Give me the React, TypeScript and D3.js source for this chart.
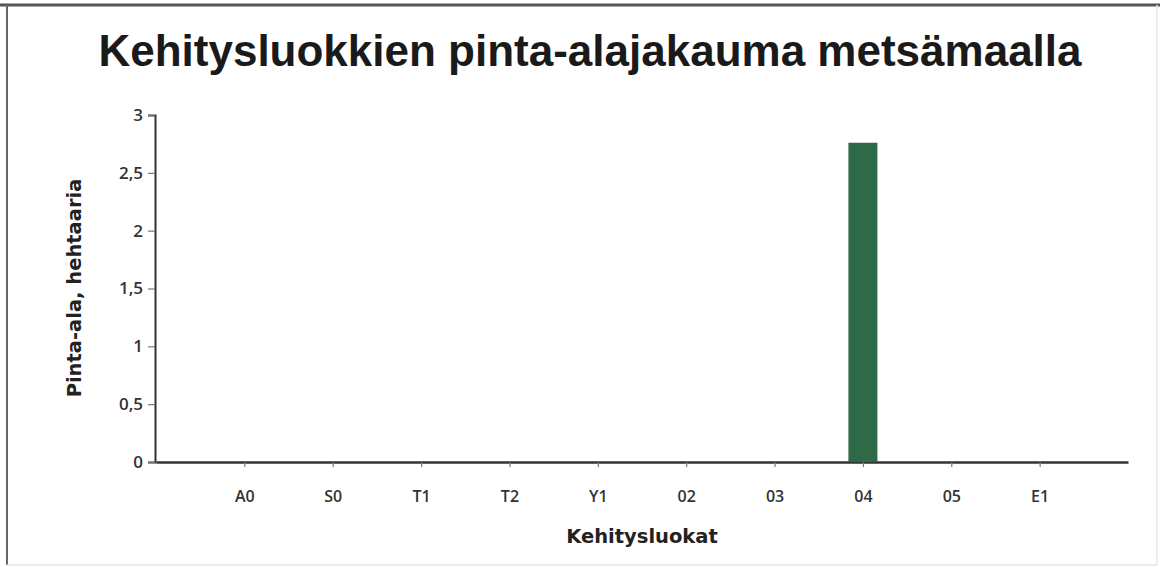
import React, { useEffect, useRef } from 'react';
import * as d3 from 'd3';

const categories = ['A0', 'S0', 'T1', 'T2', 'Y1', '02', '03', '04', '05', 'E1'];
const areaHa = [0, 0, 0, 0, 0, 0, 0, 2.76, 0, 0];
const yTicks = [0, 0.5, 1, 1.5, 2, 2.5, 3];

const chartTitle = 'Kehitysluokkien pinta-alajakauma metsämaalla';
const xTitle = 'Kehitysluokat';
const yTitle = 'Pinta-ala, hehtaaria';

function App() {
  const ref = useRef<any>(null);
  const dims = { width: 1160, height: 567 };
  const margin = { left: 155, right: 32, top: 115, bottom: 105 };

  useEffect(() => {
    const svg = d3.select(ref.current).attr('width', dims.width).attr('height', dims.height);
    svg.selectAll('*').remove();

    svg.append('rect').attr('width', dims.width).attr('height', dims.height).attr('fill', '#ffffff');

    // scanned frame
    svg.append('line').attr('x1', 0).attr('x2', dims.width).attr('y1', 5).attr('y2', 5)
      .attr('stroke', '#555').attr('stroke-width', 3);
    svg.append('line').attr('x1', 7).attr('x2', 7).attr('y1', 5).attr('y2', 565)
      .attr('stroke', '#666').attr('stroke-width', 2);
    svg.append('line').attr('x1', 7).attr('x2', 1157).attr('y1', 565).attr('y2', 565)
      .attr('stroke', '#e4e4e4').attr('stroke-width', 1.5);
    svg.append('line').attr('x1', 1157).attr('x2', 1157).attr('y1', 5).attr('y2', 565)
      .attr('stroke', '#e8e8e8').attr('stroke-width', 1.5);

    const x0 = margin.left;
    const x1 = dims.width - margin.right;
    const y0 = dims.height - margin.bottom;

    const x = d3.scalePoint().domain(categories).range([x0 + 1, x1]).padding(1);
    const y = d3.scaleLinear().domain([0, 3]).range([y0, margin.top]);

    const fmt = (d: any) => String(d).replace('.', ',');

    const gy = svg.append('g').attr('transform', `translate(${x0},0)`)
      .call(d3.axisLeft(y).tickValues(yTicks).tickSize(7).tickPadding(5).tickFormat(fmt));
    gy.select('.domain').attr('stroke', '#333').attr('stroke-width', 2);
    gy.selectAll('.tick line').attr('stroke', '#777').attr('stroke-width', 1.2);
    gy.selectAll('.tick text').attr('font-family', 'Open Sans, DejaVu Sans, sans-serif')
      .attr('font-size', 17).attr('font-weight', 600).attr('fill', '#333');

    const gx = svg.append('g').attr('transform', `translate(0,${y0})`)
      .call(d3.axisBottom(x).tickSize(5).tickSizeOuter(0).tickPadding(24));
    gx.select('.domain').attr('stroke', '#333').attr('stroke-width', 2.5);
    gx.selectAll('.tick line').attr('stroke', '#777').attr('stroke-width', 1.2);
    gx.selectAll('.tick text').attr('font-family', 'Open Sans, DejaVu Sans, sans-serif')
      .attr('font-size', 16).attr('font-weight', 600).attr('fill', '#333');

    const barW = 29;
    svg.append('g')
      .selectAll('rect')
      .data(categories)
      .join('rect')
      .attr('x', (d: any) => (x(d) as number) - barW / 2)
      .attr('y', (d: any, i: number) => y(areaHa[i]))
      .attr('width', barW)
      .attr('height', (d: any, i: number) => y(0) - y(areaHa[i]))
      .attr('fill', '#2e6a47');

    svg.append('text')
      .attr('x', 590).attr('y', 66)
      .attr('text-anchor', 'middle')
      .attr('font-family', 'Liberation Sans, Arial, sans-serif')
      .attr('font-weight', 'bold')
      .attr('font-size', 44)
      .attr('fill', '#1a1a1a')
      .text(chartTitle);

    svg.append('text')
      .attr('x', 642).attr('y', 543)
      .attr('text-anchor', 'middle')
      .attr('font-family', 'DejaVu Sans, sans-serif')
      .attr('font-weight', 'bold')
      .attr('font-size', 19.5)
      .attr('fill', '#222')
      .text(xTitle);

    svg.append('text')
      .attr('transform', `translate(81,288) rotate(-90)`)
      .attr('text-anchor', 'middle')
      .attr('font-family', 'DejaVu Sans, sans-serif')
      .attr('font-weight', 'bold')
      .attr('font-size', 19.5)
      .attr('fill', '#222')
      .text(yTitle);
  });

  return (
    <div id="chartArea" style={{ position: 'absolute', left: 0, top: 0 }}>
      <svg ref={ref} style={{ display: 'block' }}></svg>
    </div>
  );
}

export default App;
